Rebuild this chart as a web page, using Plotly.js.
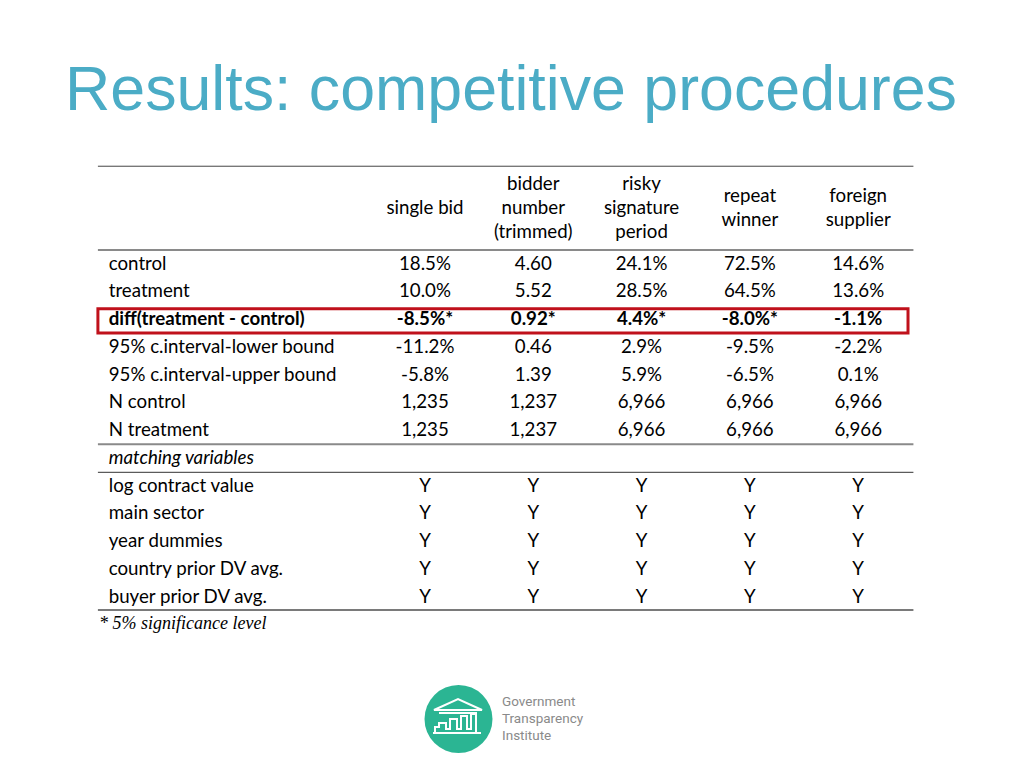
<!DOCTYPE html>
<html>
<head>
<meta charset="utf-8">
<script src="https://cdn.plot.ly/plotly-3.0.1.min.js"></script>
<style>html,body{margin:0;padding:0;background:#fff;}#chart{width:1024px;height:768px;}</style>
</head>
<body>
<div id="chart"></div>
<script>
// ---------- data ----------
const columnHeaders = ["single bid", "bidder<br>number<br>(trimmed)", "risky<br>signature<br>period", "repeat<br>winner", "foreign<br>supplier"];
const isPercent = [true, false, true, true, true];
const controlVals = [18.5, 4.60, 24.1, 72.5, 14.6];
const treatmentVals = [10.0, 5.52, 28.5, 64.5, 13.6];
const diffVals = [-8.5, 0.92, 4.4, -8.0, -1.1];
const diffSignificant = [true, true, true, true, false];
const lowerBound = [-11.2, 0.46, 2.9, -9.5, -2.2];
const upperBound = [-5.8, 1.39, 5.9, -6.5, 0.1];
const nControl = [1235, 1237, 6966, 6966, 6966];
const nTreatment = [1235, 1237, 6966, 6966, 6966];
const matchingVariables = ["log contract value", "main sector", "year dummies", "country prior DV avg.", "buyer prior DV avg."];
const matchingUsed = [
  ["Y","Y","Y","Y","Y"],
  ["Y","Y","Y","Y","Y"],
  ["Y","Y","Y","Y","Y"],
  ["Y","Y","Y","Y","Y"],
  ["Y","Y","Y","Y","Y"]
];
const statLabels = ["control", "treatment", "diff(treatment - control)", "95% c.interval-lower bound", "95% c.interval-upper bound", "N control", "N treatment"];
const footnote = "* 5% significance level";
const titleText = "Results: competitive procedures";

// ---------- formatting ----------
function fmtVal(v, i) {
  return isPercent[i] ? v.toFixed(1) + "%" : v.toFixed(2);
}
function fmtN(v) { return v.toLocaleString("en-US"); }

const rows = [];
rows.push({label: statLabels[0], cells: controlVals.map(fmtVal)});
rows.push({label: statLabels[1], cells: treatmentVals.map(fmtVal)});
rows.push({label: "<b>" + statLabels[2] + "</b>", cells: diffVals.map((v,i) => "<b>" + fmtVal(v,i) + (diffSignificant[i] ? "*" : "") + "</b>")});
rows.push({label: statLabels[3], cells: lowerBound.map(fmtVal)});
rows.push({label: statLabels[4], cells: upperBound.map(fmtVal)});
rows.push({label: statLabels[5], cells: nControl.map(fmtN)});
rows.push({label: statLabels[6], cells: nTreatment.map(fmtN)});
rows.push({label: "<i>matching variables</i>", cells: ["","","","",""]});
matchingVariables.forEach((m, k) => rows.push({label: m, cells: matchingUsed[k]}));

// ---------- layout constants ----------
const FONT = "Lato, 'Open Sans', sans-serif";
const FS = 18.7;
const colIdx = columnHeaders.map((_, i) => i + 1);
const labelX = -1.92;
const headerRow = -2;
const tableLeft = -2.02, tableRight = 5.51;

const traces = [];
// header
traces.push({
  type: "scatter", mode: "text", x: colIdx, y: colIdx.map(() => headerRow),
  text: columnHeaders, textposition: "middle center",
  textfont: {family: FONT, size: FS, color: "#000"}, hoverinfo: "skip", showlegend: false
});
// row labels
traces.push({
  type: "scatter", mode: "text", x: rows.map(() => labelX), y: rows.map((_, r) => r),
  text: rows.map(r => r.label), textposition: "middle right",
  textfont: {family: FONT, size: FS, color: "#000"}, hoverinfo: "skip", showlegend: false
});
// cells
rows.forEach((row, r) => {
  traces.push({
    type: "scatter", mode: "text", x: colIdx, y: colIdx.map(() => r),
    text: row.cells, textposition: "middle center",
    textfont: {family: FONT, size: FS, color: "#000"}, hoverinfo: "skip", showlegend: false
  });
});

function hline(y, w, c) {
  return {type: "line", xref: "x", yref: "y", x0: tableLeft, x1: tableRight, y0: y, y1: y, line: {color: c, width: w}};
}
const px = x => x / 1024, py = y => 1 - y / 768;
function pathPaper(pts, close) {
  return pts.map((p, k) => (k ? "L" : "M") + px(p[0]).toFixed(5) + "," + py(p[1]).toFixed(5)).join(" ") + (close ? " Z" : "");
}

const shapes = [
  hline(-3.56, 1, "#444"),
  hline(-0.54, 2, "#8a8a8a"),
  hline(6.46, 2, "#8a8a8a"),
  hline(7.47, 1, "#333"),
  hline(12.43, 2, "#7a7a7a"),
  // red highlight around diff row
  {type: "rect", xref: "x", yref: "y", x0: -2.02, x1: 5.46, y0: 1.58, y1: 2.45, line: {color: "#c0111b", width: 3}},
  // logo circle
  {type: "circle", xref: "paper", yref: "paper", xsizemode: "pixel", ysizemode: "pixel",
   xanchor: px(458.5), yanchor: py(719), x0: -34, x1: 34, y0: -34, y1: 34,
   fillcolor: "#2bb593", line: {width: 0}},
  // roof
  {type: "path", xref: "paper", yref: "paper",
   path: pathPaper([[434,710],[458,699],[482,710],[434,710]], true), line: {color: "#fff", width: 2}},
  {type: "path", xref: "paper", yref: "paper",
   path: pathPaper([[439,713],[477,713]], false), line: {color: "#fff", width: 2}},
  // bars
  {type: "path", xref: "paper", yref: "paper",
   path: pathPaper([[435,733],[435,727],[439,727],[439,723],[446,723],[446,729],[450,729],[450,719],[457,719],[457,729],[461,729],[461,716],[467,716],[467,729],[471,729],[471,714],[476,714],[476,733],[435,733]], false),
   line: {color: "#fff", width: 2}},
  {type: "path", xref: "paper", yref: "paper",
   path: pathPaper([[433,733],[481,733]], false), line: {color: "#fff", width: 2}}
];

const annotations = [
  {xref: "x", yref: "y", x: tableLeft - 0.01, y: 12.9, xanchor: "left", yanchor: "middle", showarrow: false,
   text: "<i>" + footnote + "</i>", font: {family: "'Liberation Serif', serif", size: 18, color: "#000"}},
  {xref: "paper", yref: "paper", x: px(500), y: py(701), xanchor: "left", yanchor: "middle", showarrow: false,
   text: "Government", font: {family: "Roboto, sans-serif", size: 13.5, color: "#8a8a8a"}},
  {xref: "paper", yref: "paper", x: px(500), y: py(718), xanchor: "left", yanchor: "middle", showarrow: false,
   text: "Transparency", font: {family: "Roboto, sans-serif", size: 13.5, color: "#8a8a8a"}},
  {xref: "paper", yref: "paper", x: px(500), y: py(735), xanchor: "left", yanchor: "middle", showarrow: false,
   text: "Institute", font: {family: "Roboto, sans-serif", size: 13.5, color: "#8a8a8a"}}
];

const layout = {
  width: 1024, height: 768,
  margin: {l: 0, r: 0, t: 0, b: 0},
  paper_bgcolor: "#fff", plot_bgcolor: "#fff",
  title: {text: titleText, xref: "paper", x: px(65), xanchor: "left", yref: "container", y: 1 - 88/768, yanchor: "middle",
          font: {family: "'Liberation Sans', Arial, sans-serif", size: 62.7, color: "#4bacc6"}},
  xaxis: {range: [-2.924, 6.531], visible: false, fixedrange: true},
  yaxis: {range: [18.126, -9.55], visible: false, fixedrange: true},
  shapes: shapes,
  annotations: annotations,
  showlegend: false
};

Plotly.newPlot("chart", traces, layout, {displayModeBar: false, staticPlot: true});
</script>
</body>
</html>
